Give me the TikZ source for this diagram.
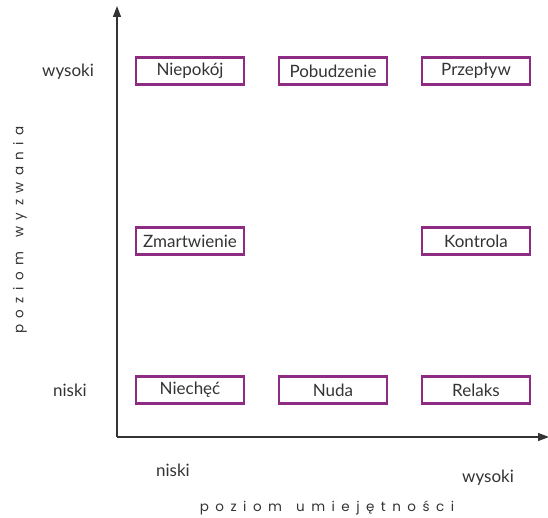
\documentclass[tikz,border=0pt]{standalone}
\usepackage{fontspec}
\setmainfont{Lato}
\newfontfamily\axisfont[LetterSpace=48,WordSpace=1.4]{Poppins}
\usetikzlibrary{arrows.meta}
\definecolor{boxpurple}{HTML}{8E2C83}
\definecolor{inkgray}{HTML}{333333}
\begin{document}
\begin{tikzpicture}[x=1pt,y=-1pt,
  state/.style={draw=boxpurple,line width=2.2pt,minimum width=108pt,minimum height=27pt,
    inner sep=0pt,font=\fontsize{17}{19}\selectfont,text=inkgray},
  axis/.style={draw=inkgray,line width=1.2pt,-{Triangle[length=11pt,width=8pt]}},
  tick/.style={font=\fontsize{17}{19}\selectfont,text=inkgray},
  axlabel/.style={font=\fontsize{13.5}{16}\axisfont,text=inkgray}]
\useasboundingbox (0,0) rectangle (548,518);
% axes
\coordinate (origin) at (117,437);
\coordinate (ytop) at (117,6);
\coordinate (xend) at (549,437);
\draw[axis] (origin) -- (ytop);
\draw[axis] (origin) -- (xend);
% states
\node[state] (niepokoj) at (190,71) {Niepokój};
\node[state] (pobudzenie) at (333,71) {Pobudzenie};
\node[state] (przeplyw) at (476,71) {Przepływ};
\node[state] (zmartwienie) at (190,241) {Zmartwienie};
\node[state] (kontrola) at (476,241) {Kontrola};
\node[state] (niechec) at (190,390) {Niechęć};
\node[state] (nuda) at (333,390) {Nuda};
\node[state] (relaks) at (476,390) {Relaks};
% tick labels
\node[tick] (ywys) at (68,72) {wysoki};
\node[tick] (ynis) at (70,390) {niski};
\node[tick] (xnis) at (173,470) {niski};
\node[tick] (xwys) at (488,478) {wysoki};
% axis titles
\node[axlabel] (xtitle) at (327,508) {poziom umiejętności};
\node[axlabel,rotate=90] (ytitle) at (20,230) {poziom wyzwania};
\end{tikzpicture}
\end{document}
